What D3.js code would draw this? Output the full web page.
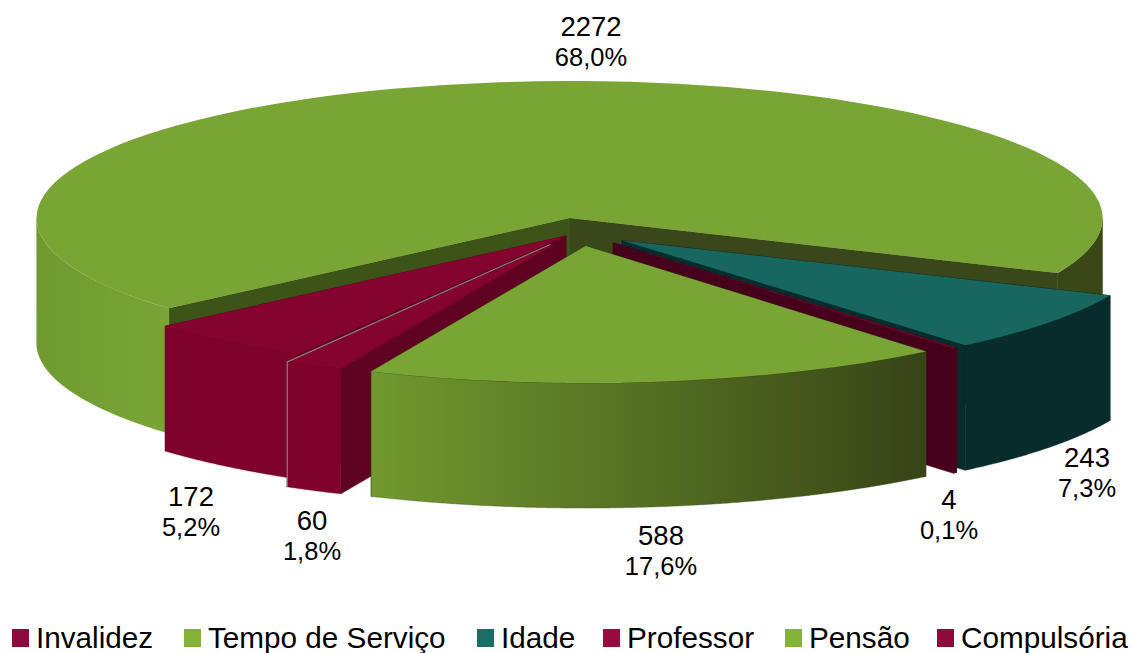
<!DOCTYPE html>
<html>
<head>
<meta charset="utf-8">
<script src="https://cdn.jsdelivr.net/npm/d3@7"></script>
<style>
	html, body { margin: 0; padding: 0; background: #fff; }
	svg { display: block; }
	text { font-family: "Liberation Sans", sans-serif; fill: #000; }
	.data-label { font-size: 27.5px; text-anchor: middle; }
	.data-label.percent { font-size: 25.5px; }
	.legend-label { font-size: 29.7px; }
</style>
</head>
<body>
<svg id="pie-vis" width="1132" height="653"></svg>
<script>
// data
const categories = ["Invalidez", "Tempo de Serviço", "Idade", "Professor", "Pensão", "Compulsória"];
const counts = [172, 2272, 243, 4, 588, 60];
const percents = ["5,2%", "68,0%", "7,3%", "0,1%", "17,6%", "1,8%"];

// look of each slice, same order as categories
const topColors = ["#85032f", "#79a535", "#17665f", "#7a0029", "#79a535", "#85032f"];
const cutStartColors = ["#5e0221", "#3d5419", "#072c2b", "#47001c", "#3a4c17", "#600222"];
const cutEndColors = ["#5e0221", "#39471a", "#072c2b", "#47001c", "#3a4c17", "#600222"];
const legendColors = ["#8f0a3c", "#84b237", "#1a6e66", "#9b0a3f", "#84b237", "#8f0a3c"];
const explodeBy = [19, 55, 55, 55, 55, 50];
const rimStops = [
	[["#7d032c", "#7d032c"]],
	[["#6f9a30", "#7aa536"], ["#3a4815", "#3a4815"]],
	[["#072c2b", "#072c2b"]],
	[["#47001c", "#47001c"]],
	[["#72992f", "#364416"]],
	[["#7d032c", "#7d032c"]],
];

const labelX = [191, 591, 1087, 949, 661, 312];
const labelY = [506, 36, 467, 509, 545, 530];
const legendX = [12, 184, 477, 603, 785, 937];

const rx = 533;
const ry = 137;
const depth = 125;
const center = { x: 578, y: 232 };
const deg = Math.PI / 180;

const svg = d3.select("svg#pie-vis");
const defs = svg.append("defs");

const slices = d3.pie().sort(null).startAngle(210.2 * deg).endAngle(570.2 * deg)(counts);

slices.forEach((s, i) => {
	let mid = (s.startAngle + s.endAngle) / 2;
	s.cx = center.x + explodeBy[i] * Math.sin(mid);
	s.cy = center.y - (explodeBy[i] * Math.cos(mid) * ry) / rx;
	s.i = i;
});

const rimPoint = (s, a) => [s.cx + rx * Math.sin(a), s.cy - ry * Math.cos(a)];

const topArc = d3.arc().innerRadius(0).outerRadius(rx);
const line = d3.line();

// front of the pie only, angles between 90 and 270 degrees
function visibleRanges(s) {
	let ranges = [];
	for (let k = 0; k < 2; k++) {
		let lo = Math.max(s.startAngle, (90 + 360 * k) * deg);
		let hi = Math.min(s.endAngle, (270 + 360 * k) * deg);
		if (hi > lo) ranges.push([lo, hi]);
	}
	return ranges;
}

function rimWall(s, lo, hi) {
	let angles = d3.range(lo, hi, 0.005).concat([hi]);
	let upper = angles.map((a) => rimPoint(s, a));
	let lower = upper.map((p) => [p[0], p[1] + depth]).reverse();
	return line(upper.concat(lower)) + "Z";
}

function cutWall(s, a) {
	let p = rimPoint(s, a);
	return line([
		[s.cx, s.cy],
		p,
		[p[0], p[1] + depth],
		[s.cx, s.cy + depth],
	]) + "Z";
}

function rimGradient(id, x0, x1, from, to) {
	let grad = defs
		.append("linearGradient")
		.attr("id", id)
		.attr("gradientUnits", "userSpaceOnUse")
		.attr("x1", x0)
		.attr("x2", x1)
		.attr("y1", 0)
		.attr("y2", 0);
	grad.append("stop").attr("offset", 0).attr("stop-color", from);
	grad.append("stop").attr("offset", 1).attr("stop-color", to);
}

function drawSlice(s) {
	let g = svg.append("g").attr("class", "slice");

	// same colour stroke closes the seam between wall pieces
	g.append("path")
		.attr("d", cutWall(s, s.startAngle))
		.attr("fill", cutStartColors[s.i])
		.attr("stroke", cutStartColors[s.i])
		.attr("stroke-width", 0.6);
	g.append("path")
		.attr("d", cutWall(s, s.endAngle))
		.attr("fill", cutEndColors[s.i])
		.attr("stroke", cutEndColors[s.i])
		.attr("stroke-width", 0.6);

	visibleRanges(s).forEach((r, k) => {
		let id = `rim-${s.i}-${k}`;
		let stops = rimStops[s.i][Math.min(k, rimStops[s.i].length - 1)];
		let xs = r.map((a) => rimPoint(s, a)[0]);
		rimGradient(id, d3.min(xs), d3.max(xs), stops[0], stops[1]);
		g.append("path")
			.attr("d", rimWall(s, r[0], r[1]))
			.attr("fill", `url(#${id})`)
			.attr("stroke", stops[1])
			.attr("stroke-width", 0.4);
	});

	g.append("path")
		.attr("d", topArc(s))
		.attr("transform", `translate(${s.cx},${s.cy}) scale(1,${ry / rx})`)
		.attr("fill", topColors[s.i]);
}

// back to front
[1, 0, 2, 3, 5, 4].forEach((i) => drawSlice(slices[i]));

// thin grey edge between Invalidez and Compulsoria
{
	let s = slices[5];
	let p = rimPoint(s, s.endAngle);
	svg.append("path")
		.attr("d", line([[s.cx - 5, s.cy + 1], p, [p[0], p[1] + depth]]))
		.attr("fill", "none")
		.attr("stroke", "#8c7f84")
		.attr("stroke-width", 1.2);
}

// labels
const labels = svg
	.selectAll("g.data-label-group")
	.data(categories)
	.join("g")
	.attr("class", "data-label-group")
	.attr("transform", (d, i) => `translate(${labelX[i]},${labelY[i]})`);
labels.append("text").attr("class", "data-label").text((d, i) => counts[i]);
labels.append("text").attr("class", "data-label percent").attr("y", 30).text((d, i) => percents[i]);

// legend
const legend = svg
	.selectAll("g.legend-item")
	.data(categories)
	.join("g")
	.attr("class", "legend-item")
	.attr("transform", (d, i) => `translate(${legendX[i]},629)`);
legend
	.append("rect")
	.attr("width", 17)
	.attr("height", 18)
	.attr("fill", (d, i) => legendColors[i]);
legend
	.append("text")
	.attr("class", "legend-label")
	.attr("x", 24)
	.attr("y", 19)
	.text((d) => d);
</script>
</body>
</html>
